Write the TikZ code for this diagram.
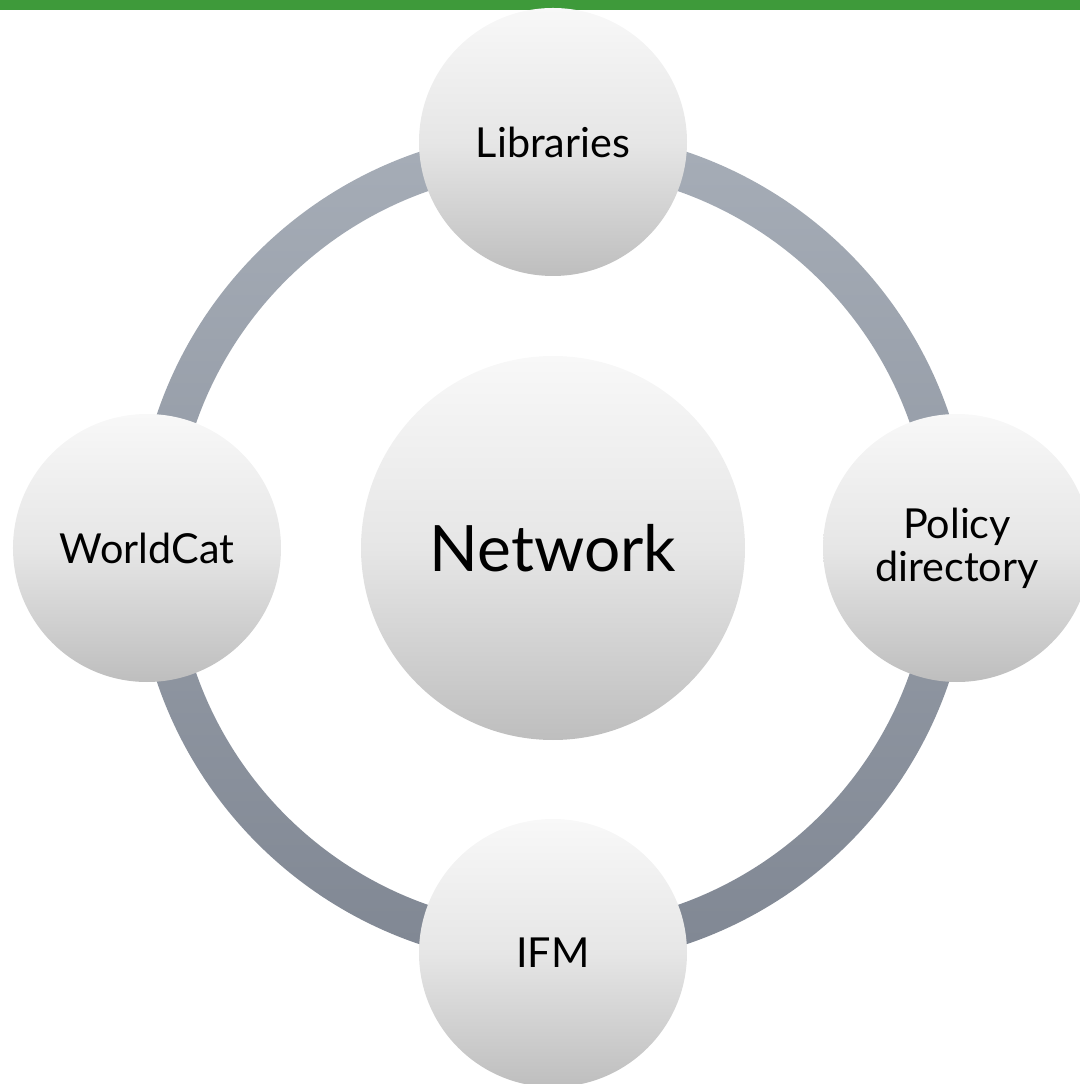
\documentclass[tikz,border=0pt]{standalone}
\usepackage{fontspec}
\setmainfont{Lato}
\usetikzlibrary{positioning}

\definecolor{barGreen}{RGB}{62,154,58}
\definecolor{ringTop}{RGB}{166,173,183}
\definecolor{ringBottom}{RGB}{128,135,147}
\definecolor{ballTop}{RGB}{248,248,248}
\definecolor{ballMid}{RGB}{230,230,230}
\definecolor{ballBottom}{RGB}{190,190,190}

\tikzset{
  ball/.style={circle, minimum size=201pt, inner sep=0pt, top color=ballTop, bottom color=ballBottom, middle color=ballMid, align=center, text=black, font=\fontsize{31}{32}\selectfont},
  hubball/.style={ball, minimum size=288pt, font=\fontsize{48}{52}\selectfont}
}

\begin{document}
\begin{tikzpicture}[x=0.75pt,y=0.75pt]
\useasboundingbox (-553,-536) rectangle (527,548);
\clip (-553,-536) rectangle (527,548);

%Green bar along the top
\fill [barGreen] (-553,538) rectangle (527,548);

%Ring round the hub
\coordinate (hub) at (0,0);
\shade [top color=ringTop, bottom color=ringBottom, even odd rule] (hub) circle (418) (hub) circle (378);

%Hub
\node [hubball] (network) at (hub) {Network};

%Balls on the ring
\node [ball] (libraries) at (0,406) {Libraries};
\node [ball] (policy) at (404,0) {Policy\\directory};
\node [ball] (ifm) at (0,-405) {IFM};
\node [ball] (worldcat) at (-406,0) {WorldCat};

\end{tikzpicture}
\end{document}
